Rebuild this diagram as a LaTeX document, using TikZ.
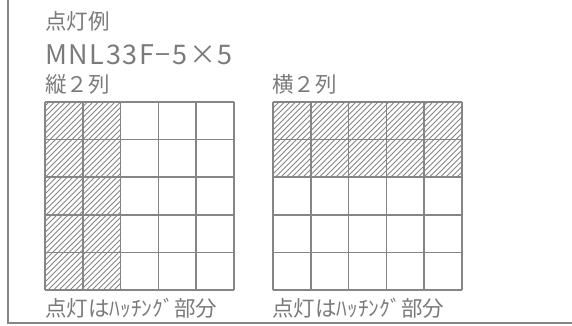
\documentclass[tikz,border=0pt]{standalone}
\usepackage{fontspec}
\setmainfont{Noto Sans CJK JP}
\definecolor{lg}{HTML}{858585}
\definecolor{tg}{HTML}{7A7A7A}
\tikzset{
  frame/.style={draw=lg, line width=1.6pt},
  gridline/.style={draw=lg, line width=1.6pt},
  hatch/.style={draw=lg, line width=0.8pt},
  lbl/.style={anchor=base west, inner sep=0pt, text=tg, font=\fontsize{21.5}{21.5}\selectfont},
}
\begin{document}
\begin{tikzpicture}[x=1pt,y=-1pt]
\useasboundingbox (0,0) rectangle (572,326);
\draw[frame] (8,0) -- (8,323) -- (572,323);

\node[lbl] (title) at (45,30) {点灯例};
\node[lbl, font=\fontsize{27}{27}\selectfont] (model) at (45,65) {\addfontfeatures{LetterSpace=6}MNL33F−5×5};
\node[lbl] (lefthead) at (45,93) {縦２列};
\node[lbl] (righthead) at (272,93) {横２列};
\node[lbl] (leftfoot) at (45,316) {点灯はﾊｯﾁﾝｸﾞ部分};
\node[lbl] (rightfoot) at (272,316) {点灯はﾊｯﾁﾝｸﾞ部分};

% hatching left grid
\begin{scope}
\clip (45,102) rectangle (121,290);
\foreach \i in {0,...,70} \draw[hatch] ({\i*5.5-150},290) -- ++(200,-200);
\end{scope}
% hatching right grid
\begin{scope}
\clip (273,102) rectangle (462,177);
\foreach \i in {0,...,70} \draw[hatch] ({\i*5.5+180},190) -- ++(100,-100);
\end{scope}

% left grid
\foreach \k in {0,...,5} {
  \draw[gridline] ({45+\k*37.8},102) -- ({45+\k*37.8},290);
  \draw[gridline] (45,{102+\k*37.6}) -- (234,{102+\k*37.6});
}
% right grid
\foreach \k in {0,...,5} {
  \draw[gridline] ({273+\k*37.8},102) -- ({273+\k*37.8},290);
  \draw[gridline] (273,{102+\k*37.6}) -- (462,{102+\k*37.6});
}
\end{tikzpicture}
\end{document}
